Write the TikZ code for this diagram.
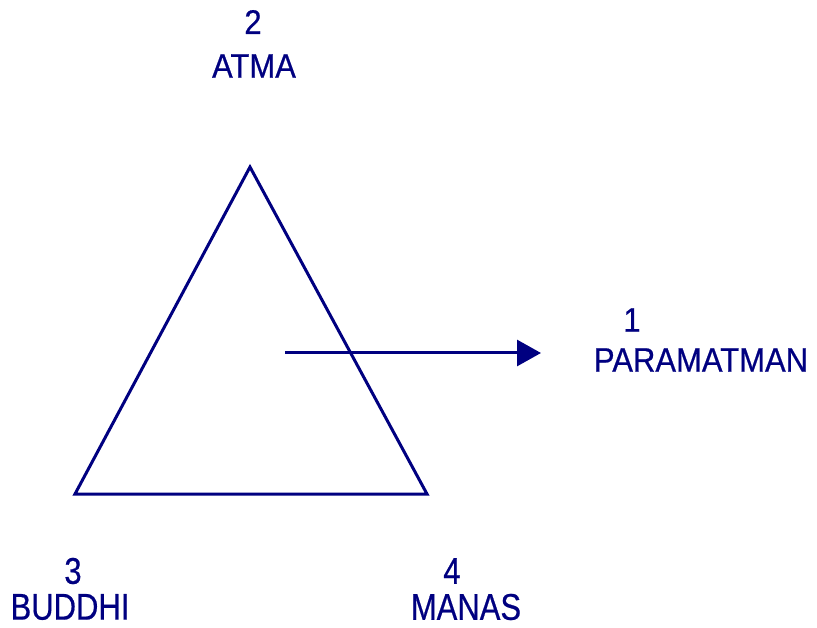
\documentclass[tikz,border=0pt]{standalone}
\usepackage{fontspec}
\setmainfont{Liberation Sans}
\newfontfamily\labelfont[FakeBold=0.6]{Liberation Sans}
\usetikzlibrary{arrows.meta}
\definecolor{navy}{RGB}{0,0,128}
\tikzset{
  lbl/.style={text=navy, inner sep=0pt, font=\labelfont\fontsize{31}{34}\selectfont},
  edge/.style={draw=navy, line width=3pt},
}
\begin{document}
\begin{tikzpicture}[x=1pt, y=-1pt]
    \useasboundingbox (0,0) rectangle (817,628);

    \coordinate (atma) at (250,167);
    \coordinate (buddhi) at (75,494);
    \coordinate (manas) at (427,494);
    \coordinate (start) at (285,353);
    \coordinate (tip) at (541,353);

    \draw[edge, line join=miter] (atma) -- (buddhi) -- (manas) -- cycle;
    \draw[edge, -{Triangle[length=24pt, width=26pt]}] (start) -- (tip);

    \node[lbl, yscale=1.1] (n2) at (253,22) {2};
    \node[lbl, yscale=1.1] (l2) at (254,66) {ATMA};
    \node[lbl, yscale=1.1] (n1) at (632,320) {1};
    \node[lbl, yscale=1.1] (l1) at (701,360) {PARAMATMAN};
    \node[lbl, yscale=1.2] (n3) at (73,571) {3};
    \node[lbl, yscale=1.2] (l3) at (70,607) {BUDDHI};
    \node[lbl, yscale=1.2] (n4) at (452,571) {4};
    \node[lbl, yscale=1.2] (l4) at (466,607) {MANAS};
\end{tikzpicture}
\end{document}
